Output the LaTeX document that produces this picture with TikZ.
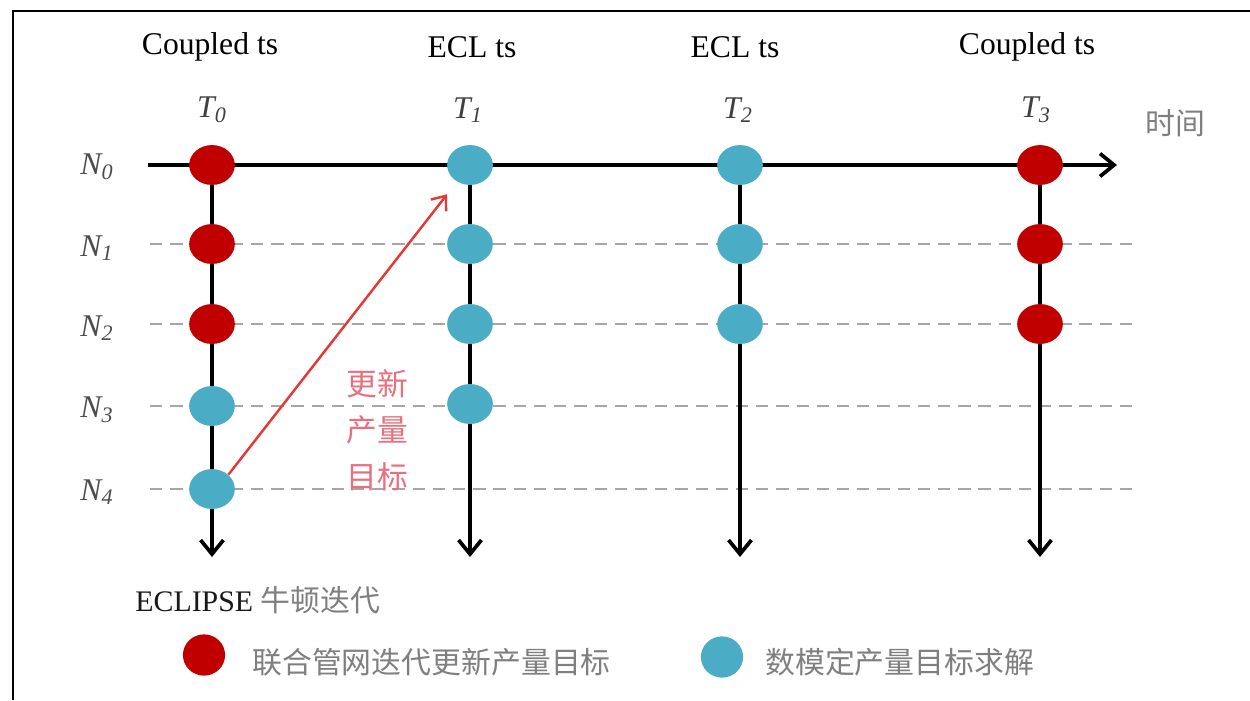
\documentclass[tikz,border=0pt]{standalone}
\usepackage{fontspec}
\setmainfont{Liberation Serif}
\newfontfamily\cjk{Noto Sans CJK SC}
\usetikzlibrary{arrows.meta,shapes.geometric}
\definecolor{dotred}{HTML}{C00000}
\definecolor{dotblue}{HTML}{4BACC6}
\definecolor{arrred}{HTML}{E53935}
\definecolor{txtpink}{HTML}{E8707E}
\definecolor{dashgray}{HTML}{A6A6A6}
\definecolor{cjkgray}{HTML}{7F7F7F}
\begin{document}
\begin{tikzpicture}[x=0.02cm,y=-0.02cm,
  dotbase/.style={ellipse,minimum width=26pt,minimum height=22.7pt,inner sep=0pt},
  reddot/.style={dotbase,fill=dotred},
  bluedot/.style={dotbase,fill=dotblue},
  legdot/.style={ellipse,minimum width=24pt,minimum height=23.5pt,inner sep=0pt},
  axisline/.style={line width=2.1pt,-{Straight Barb[length=8pt,width=13pt]}},
  gridline/.style={dashgray,line width=1.1pt,dash pattern=on 7pt off 4.5pt},
  toplabel/.style={font=\fontsize{18}{20}\selectfont,text=black},
  tlab/.style={font=\fontsize{18}{20}\selectfont\itshape,text=black!75},
  nlab/.style={font=\fontsize{18}{20}\selectfont\itshape,text=black!70},
  cjklab/.style={font=\cjk\fontsize{17}{20}\selectfont,text=cjkgray},
  redarrow/.style={arrred,line width=1.4pt,-{Straight Barb[length=7pt,width=11pt]}}
]
\useasboundingbox (0,0) rectangle (1250,700);
\fill[white] (0,0) rectangle (1250,700);
\draw[line width=1.6pt] (13,700) -- (13,11) -- (1250,11);

% column and row coordinates
\coordinate (axl) at (148,165);
\coordinate (axr) at (1117,165);
\coordinate (b0) at (212,557);
\coordinate (b1) at (470,557);
\coordinate (b2) at (740,557);
\coordinate (b3) at (1040,557);
\coordinate (c0) at (212,165);
\coordinate (c1) at (470,165);
\coordinate (c2) at (740,165);
\coordinate (c3) at (1040,165);
\coordinate (l1) at (150,244); \coordinate (r1) at (1132,244);
\coordinate (l2) at (150,324); \coordinate (r2) at (1132,324);
\coordinate (l3) at (150,406); \coordinate (r3) at (1132,406);
\coordinate (l4) at (150,489); \coordinate (r4) at (1132,489);

% dashed row lines
\draw[gridline] (l1) -- (r1);
\draw[gridline] (l2) -- (r2);
\draw[gridline] (l3) -- (r3);
\draw[gridline] (l4) -- (r4);

% time axis and vertical lines
\draw[axisline] (axl) -- (axr);
\draw[axisline] (c0) -- (b0);
\draw[axisline] (c1) -- (b1);
\draw[axisline] (c2) -- (b2);
\draw[axisline] (c3) -- (b3);

% dots
\node[reddot] (d00) at (212,165) {};
\node[reddot] (d10) at (212,244) {};
\node[reddot] (d20) at (212,324) {};
\node[bluedot] (d30) at (212,406) {};
\node[bluedot] (d40) at (212,489) {};
\node[bluedot] (d01) at (470,165) {};
\node[bluedot] (d11) at (470,244) {};
\node[bluedot] (d21) at (470,324) {};
\node[bluedot] (d31) at (470,404) {};
\node[bluedot] (d02) at (740,165) {};
\node[bluedot] (d12) at (740,244) {};
\node[bluedot] (d22) at (740,324) {};
\node[reddot] (d03) at (1040,165) {};
\node[reddot] (d13) at (1040,244) {};
\node[reddot] (d23) at (1040,324) {};

% red update arrow
\draw[redarrow,shorten >=9pt] (d40.north east) -- (d01);
\node[font=\cjk\fontsize{17.5}{26.5}\selectfont,text=txtpink,align=center] (upd) at (377,430) {更新\\产量\\目标};

% top labels
\node[toplabel] (h0) at (210,47) {Coupled ts};
\node[toplabel] (h1) at (472,47) {ECL ts};
\node[toplabel] (h2) at (735,47) {ECL ts};
\node[toplabel] (h3) at (1027,47) {Coupled ts};

\node[tlab] (t0) at (212,110) {T\textsubscript{0}};
\node[tlab] (t1) at (468,110) {T\textsubscript{1}};
\node[tlab] (t2) at (738,110) {T\textsubscript{2}};
\node[tlab] (t3) at (1036,110) {T\textsubscript{3}};
\node[cjklab] (time) at (1175,123) {时间};

% row labels
\node[nlab] (n0) at (97,167) {N\textsubscript{0}};
\node[nlab] (n1) at (97,248) {N\textsubscript{1}};
\node[nlab] (n2) at (97,328) {N\textsubscript{2}};
\node[nlab] (n3) at (97,410) {N\textsubscript{3}};
\node[nlab] (n4) at (97,492) {N\textsubscript{4}};

% bottom
\node[anchor=west,inner sep=0pt,font=\fontsize{17}{20}\selectfont,text=black!90] (ecl) at (135,600) {ECLIPSE \textcolor{cjkgray}{\cjk 牛顿迭代}};
\node[legdot,fill=dotred] (lgr) at (204,655) {};
\node[cjklab,anchor=west,inner sep=0pt] (lgrt) at (252,662) {联合管网迭代更新产量目标};
\node[legdot,fill=dotblue] (lgb) at (722,657) {};
\node[cjklab,anchor=west,inner sep=0pt] (lgbt) at (765,662) {数模定产量目标求解};
\end{tikzpicture}
\end{document}
